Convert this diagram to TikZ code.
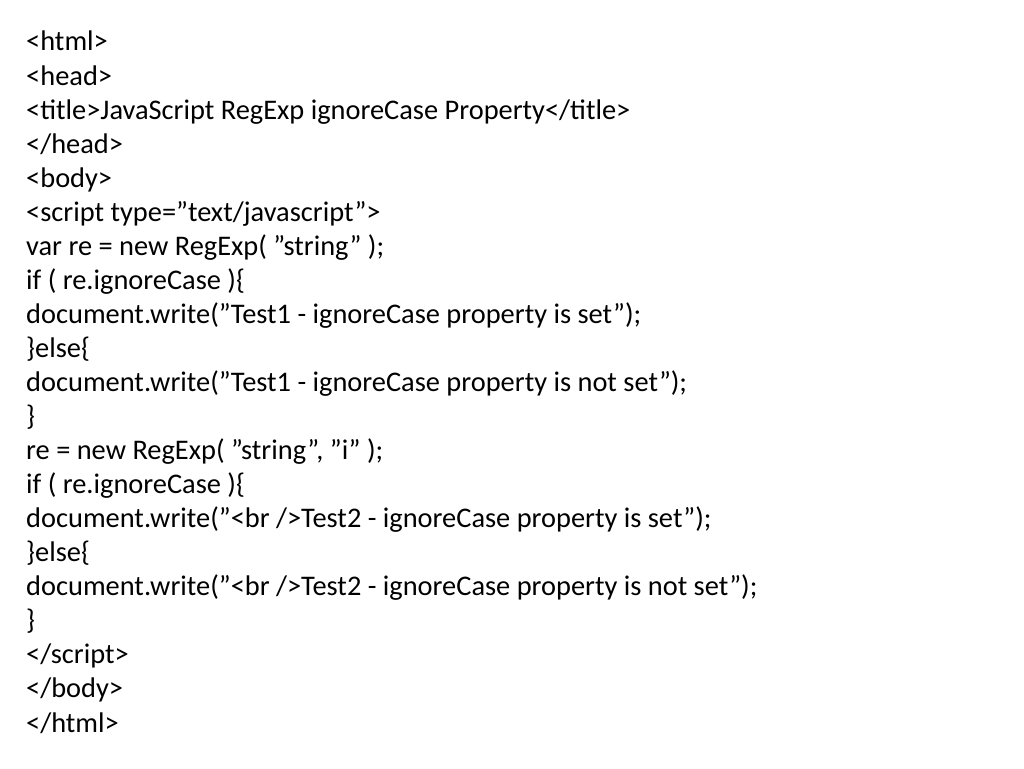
\documentclass[tikz,border=0pt]{standalone}
\usepackage{fontspec}
\defaultfontfeatures{}
\setmainfont{Carlito}
\begin{document}
\begin{tikzpicture}[x=1pt,y=-1pt,line/.style={anchor=base west,inner sep=0pt,font=\fontsize{28.4}{32}\selectfont}]
\useasboundingbox (0,0) rectangle (1024,768);
\foreach \t [count=\i from 0] in {
{<html>},
{<head>},
{<title>JavaScript RegExp ignoreCase Property</title>},
{</head>},
{<body>},
{<script type="text/javascript">},
{var re = new RegExp( "string" );},
{if ( re.ignoreCase )\{},
{document.write("Test1 - ignoreCase property is set");},
{\}else\{},
{document.write("Test1 - ignoreCase property is not set");},
{\}},
{re = new RegExp( "string", "i" );},
{if ( re.ignoreCase )\{},
{document.write("<br />Test2 - ignoreCase property is set");},
{\}else\{},
{document.write("<br />Test2 - ignoreCase property is not set");},
{\}},
{</script>},
{</body>},
{</html>}}
  \node[line] (l\i) at (26,{51+34.05*\i}) {\t};
\end{tikzpicture}
\end{document}
